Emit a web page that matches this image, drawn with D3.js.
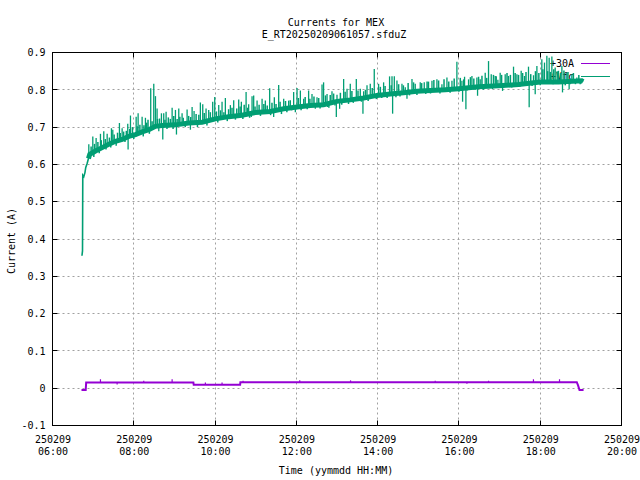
<!DOCTYPE html>
<html><head><meta charset="utf-8">
<script src="https://cdn.jsdelivr.net/npm/d3@7"></script>
<style>
body{margin:0;background:#fff}
svg text{font-family:"DejaVu Sans Mono","Liberation Mono",monospace;font-size:10px;fill:#000}
</style>
</head><body>
<svg id="c" width="640" height="480"></svg>
<script>
// ---------- data ----------
const titleLines = ["Currents for MEX", "E_RT20250209061057.sfduZ"];
const xLabel = "Time (yymmdd HH:MM)";
const yLabel = "Current (A)";
const seriesNames = ["+30A", "+Vfc"];
const seriesColors = ["#9400d3", "#009e73"];
const yTicks = [-0.1, 0, 0.1, 0.2, 0.3, 0.4, 0.5, 0.6, 0.7, 0.8, 0.9];
const xTickHours = [6, 8, 10, 12, 14, 16, 18, 20];
const dayLabel = "250209";

// +30A series: minutes after 06:00 and current (A)
const a30T = [42.8, 49.0, 49.7, 208.0, 208.5, 277.0, 277.4, 774.0, 776.0, 778.0, 784.0];
const a30V = [-0.005, -0.005, 0.015, 0.015, 0.009, 0.009, 0.016, 0.016, 0.007, -0.005, -0.005];
const a30SpikeT = [70.8, 95.4, 134.7, 176.6, 225.7, 250.3, 281.3, 365, 440, 565, 611.8, 643.7, 710, 748.5];
const a30SpikeV = [0.024, 0.010, 0.020, 0.024, 0.015, 0.015, 0.020, 0.021, 0.021, 0.020, 0.012, 0.020, 0.024, 0.024];

// +Vfc series: baseline band (minutes after 06:00, A)
const vfcBaseT = [43.5, 44.3, 44.7, 46.2, 47.9, 49.1, 51.2, 53.1, 55, 63.4, 73.3, 83.1, 92.9, 102.8, 112.6, 122.4, 132.3, 142.1, 152.0, 161.8, 181.5, 201.1, 220.8, 240.5, 260.1, 279.8, 299.5, 321.6, 341.3, 361.0, 380.6, 400.2, 420.0, 439.6, 459.3, 479.0, 498.7, 518.3, 538.0, 557.7, 579.8, 599.4, 628.9, 658.4, 688.0, 720.0, 747.0, 781.5, 783.4];
const vfcBaseV = [0.355, 0.368, 0.571, 0.567, 0.578, 0.592, 0.603, 0.616, 0.627, 0.636, 0.645, 0.654, 0.662, 0.667, 0.675, 0.680, 0.687, 0.693, 0.702, 0.704, 0.706, 0.711, 0.713, 0.722, 0.728, 0.732, 0.739, 0.742, 0.749, 0.754, 0.758, 0.760, 0.769, 0.773, 0.778, 0.785, 0.789, 0.792, 0.796, 0.798, 0.800, 0.803, 0.808, 0.811, 0.814, 0.821, 0.821, 0.824, 0.822];
// +Vfc large spikes (minutes after 06:00, peak A)
const vfcSpikeT = [53.6, 59.5, 64.4, 70.8, 75.7, 80.7, 87.0, 89.0, 98.8, 102.8, 111.1, 115.1, 123.5, 126.4, 132.3, 137.2, 145.0, 149.5, 152.0, 154.4, 160.8, 164.2, 167.7, 176.6, 181.5, 186.4, 191.3, 198.7, 206.1, 209.0, 218.3, 221.8, 226.7, 230.6, 236.5, 239.5, 245.4, 250.3, 255.2, 262.6, 267.5, 274.9, 278.8, 285.8, 289.6, 294.6,
  111.6, 156.9, 162.8, 183.0, 203.6,
  297.0, 302.0, 309.4, 314.2, 320.6, 327.5, 333.9, 341.3, 348.6, 356.0, 361.0, 365.9, 370.8, 378.1, 383.1, 390.5, 397.9, 400.2, 405.3, 412.6, 420.0, 429.8, 434.8, 439.6, 448.5, 454.4, 459.3, 464.3, 469.1, 475.0, 481.4, 488.8, 497.6, 501.2, 504.6, 508.5, 515.9, 520.8, 530.7, 535.5, 542.9, 548.8, 555.2,
  293.5, 326.5, 358.5, 388.0, 406.2, 419.0, 423.9, 458.3, 502.1, 523.3,
  560.2, 567.5, 574.9, 582.3, 589.7, 597.0, 604.4, 608.3, 614.2, 619.2, 626.5, 631.4, 638.8, 643.7, 647.7, 653.6, 657.5, 660.9, 668.3, 673.2, 680.6, 685.6, 691.9, 696.8, 702.7, 710.1, 715.1, 722.4, 726.3, 729.8, 733.2, 737.2, 742.1, 747.0, 752.0, 759.3, 766.7, 774.1, 781.5,
  605.4, 610.3, 627.5, 649.6, 664.4, 703.7, 712.6, 752.9, 762.7];
const vfcSpikeV = [0.654, 0.675, 0.671, 0.682, 0.689, 0.682, 0.697, 0.693, 0.711, 0.697, 0.709, 0.731, 0.728, 0.737, 0.728, 0.725, 0.804, 0.816, 0.783, 0.750, 0.737, 0.737, 0.741, 0.752, 0.746, 0.750, 0.737, 0.747, 0.754, 0.743, 0.766, 0.761, 0.750, 0.746, 0.768, 0.781, 0.759, 0.768, 0.778, 0.759, 0.772, 0.774, 0.768, 0.794, 0.761, 0.783,
  0.640, 0.689, 0.667, 0.680, 0.693,
  0.785, 0.771, 0.776, 0.771, 0.804, 0.780, 0.813, 0.776, 0.771, 0.794, 0.805, 0.798, 0.776, 0.798, 0.789, 0.780, 0.814, 0.820, 0.789, 0.796, 0.787, 0.829, 0.803, 0.816, 0.829, 0.803, 0.796, 0.812, 0.816, 0.856, 0.816, 0.820, 0.836, 0.836, 0.836, 0.825, 0.816, 0.807, 0.829, 0.816, 0.820, 0.820, 0.822,
  0.727, 0.727, 0.740, 0.749, 0.754, 0.727, 0.749, 0.736, 0.736, 0.776,
  0.824, 0.828, 0.815, 0.833, 0.824, 0.875, 0.824, 0.835, 0.828, 0.837, 0.833, 0.828, 0.846, 0.877, 0.842, 0.837, 0.827, 0.846, 0.842, 0.837, 0.862, 0.842, 0.851, 0.837, 0.862, 0.839, 0.864, 0.882, 0.873, 0.891, 0.886, 0.889, 0.860, 0.851, 0.864, 0.846, 0.842, 0.833, 0.828,
  0.768, 0.748, 0.784, 0.802, 0.797, 0.753, 0.788, 0.793, 0.802];
// +Vfc small excursions around the band (minutes after 06:00, A)
const vfcSmallT = [57, 61, 62, 67, 69, 72, 78, 79, 84, 86, 91, 94, 96, 100, 105, 107, 109, 114, 118, 120, 125, 129, 134, 135, 139, 141, 143, 147, 155, 158, 166, 169, 171, 174, 178, 179, 184, 188, 193, 196, 201, 204, 212, 214, 216, 224, 228, 233, 242, 244, 248, 253, 258, 260, 265, 270, 272, 277, 281, 283, 288, 291, 299, 305, 307, 312, 317, 322, 324, 330, 336, 338, 344, 346, 351, 353, 363, 367, 373, 376, 380, 386, 393, 395, 403, 408, 410, 415, 417, 425, 427, 432, 437, 442, 444, 451, 456, 462, 466, 472, 478, 484, 486, 491, 494, 500, 507, 511, 513, 518, 525, 527, 533, 538, 545, 551, 553, 558, 563, 570, 572, 578, 585, 587, 593, 600, 602, 607, 612, 617, 622, 624, 629, 634, 636, 641, 645, 651, 655, 663, 666, 671, 676, 678, 683, 688, 690, 694, 699, 706, 708, 713, 718, 720, 724, 731, 735, 739, 740, 745, 750, 755, 757, 761, 764, 769, 772, 777, 779];
const vfcSmallV = [0.648, 0.620, 0.655, 0.660, 0.630, 0.665, 0.668, 0.640, 0.672, 0.645, 0.680, 0.650, 0.685, 0.684, 0.688, 0.660, 0.690, 0.695, 0.700, 0.668, 0.702, 0.706, 0.675, 0.705, 0.712, 0.720, 0.682, 0.716, 0.722, 0.723, 0.720, 0.695, 0.726, 0.722, 0.695, 0.730, 0.722, 0.728, 0.725, 0.700, 0.730, 0.727, 0.735, 0.700, 0.733, 0.738, 0.704, 0.740, 0.742, 0.712, 0.745, 0.740, 0.716, 0.748, 0.752, 0.720, 0.750, 0.755, 0.722, 0.760, 0.752, 0.725, 0.755, 0.760, 0.730, 0.762, 0.758, 0.732, 0.765, 0.762, 0.768, 0.735, 0.770, 0.740, 0.772, 0.745, 0.778, 0.745, 0.781, 0.748, 0.776, 0.782, 0.778, 0.750, 0.785, 0.752, 0.786, 0.790, 0.758, 0.792, 0.760, 0.795, 0.762, 0.797, 0.765, 0.798, 0.768, 0.800, 0.770, 0.805, 0.775, 0.808, 0.778, 0.810, 0.778, 0.812, 0.780, 0.815, 0.782, 0.812, 0.818, 0.785, 0.820, 0.786, 0.818, 0.789, 0.822, 0.790, 0.826, 0.825, 0.790, 0.828, 0.822, 0.792, 0.830, 0.795, 0.832, 0.828, 0.798, 0.834, 0.830, 0.800, 0.835, 0.838, 0.800, 0.832, 0.805, 0.840, 0.836, 0.840, 0.806, 0.845, 0.840, 0.806, 0.845, 0.840, 0.808, 0.845, 0.848, 0.842, 0.810, 0.850, 0.845, 0.812, 0.855, 0.850, 0.848, 0.815, 0.855, 0.850, 0.845, 0.852, 0.812, 0.848, 0.815, 0.845, 0.815, 0.840, 0.815];

// ---------- drawing ----------
const svg = d3.select("#c");
const L = 52.5, R = 621.5, T = 52.5, B = 425.5;
const t0 = new Date(2025, 1, 9, 6, 0);
const toDate = m => new Date(t0.getTime() + m * 60000);
const x = d3.scaleTime().domain([t0, new Date(2025, 1, 9, 20, 0)]).range([L, R]);
const y = d3.scaleLinear().domain([-0.1, 0.9]).range([B, T]);
const snap = v => Math.round(v - 0.5) + 0.5;

// grid
const grid = svg.append("g").attr("stroke", "#a0a0a0").attr("stroke-width", 1).attr("stroke-dasharray", "2,3");
yTicks.forEach(v => grid.append("line").attr("x1", L).attr("x2", R).attr("y1", snap(y(v))).attr("y2", snap(y(v))));
xTickHours.forEach(h => {
  const xx = snap(x(new Date(2025, 1, 9, h, 0)));
  grid.append("line").attr("x1", xx).attr("x2", xx).attr("y1", T).attr("y2", B);
});

// axes (labels through d3 axes)
const fmtY = d => String(+d.toFixed(1));
const gy = svg.append("g").attr("transform", `translate(${L},0)`)
  .call(d3.axisLeft(y).tickValues(yTicks).tickSize(0).tickPadding(7).tickFormat(fmtY));
gy.select(".domain").remove();
gy.attr("font-family", null).attr("font-size", null);

const xDates = xTickHours.map(h => new Date(2025, 1, 9, h, 0));
const gx = svg.append("g").attr("transform", `translate(0,${B})`)
  .call(d3.axisBottom(x).tickValues(xDates).tickSize(0).tickPadding(0).tickFormat(() => ""));
gx.select(".domain").remove();
gx.attr("font-family", null).attr("font-size", null);
gx.selectAll(".tick text").each(function(d) {
  const t = d3.select(this).attr("y", null).attr("dy", null);
  t.append("tspan").attr("x", 0).attr("y", 17.5).text(dayLabel);
  t.append("tspan").attr("x", 0).attr("y", 29.5).text(d3.timeFormat("%H:%M")(d));
});

// tick marks (inward, mirrored)
const ticks = svg.append("g").attr("stroke", "#000").attr("stroke-width", 1);
const tl = 5;
yTicks.forEach(v => {
  const yy = snap(y(v));
  ticks.append("line").attr("x1", L).attr("x2", L + tl).attr("y1", yy).attr("y2", yy);
  ticks.append("line").attr("x1", R).attr("x2", R - tl).attr("y1", yy).attr("y2", yy);
});
xDates.forEach(d => {
  const xx = snap(x(d));
  ticks.append("line").attr("x1", xx).attr("x2", xx).attr("y1", B).attr("y2", B - tl);
  ticks.append("line").attr("x1", xx).attr("x2", xx).attr("y1", T).attr("y2", T + tl);
});

// titles
svg.append("text").attr("x", 336).attr("y", 26).attr("text-anchor", "middle").text(titleLines[0]);
svg.append("text").attr("x", 334).attr("y", 38).attr("text-anchor", "middle").text(titleLines[1]);
svg.append("text").attr("x", 336).attr("y", 474).attr("text-anchor", "middle").text(xLabel);
svg.append("text").attr("transform", "translate(15,241) rotate(-90)").attr("text-anchor", "middle").text(yLabel);

// legend
seriesNames.forEach((n, i) => {
  const ly = 63.5 + i * 13;
  svg.append("text").attr("x", 574).attr("y", ly + 3.5).attr("text-anchor", "end").text(n);
  svg.append("line").attr("x1", 581).attr("x2", 610).attr("y1", ly).attr("y2", ly)
    .attr("stroke", seriesColors[i]).attr("stroke-width", 1);
});

const plot = svg.append("g");
const line = d3.line().x(d => x(d[0])).y(d => y(d[1]));
const interp = (ts, vs, t) => {
  const i = d3.bisectLeft(ts, t);
  if (i <= 0) return vs[0];
  if (i >= ts.length) return vs[vs.length - 1];
  const f = (t - ts[i - 1]) / (ts[i] - ts[i - 1]);
  return vs[i - 1] + f * (vs[i] - vs[i - 1]);
};
const spikes = (ts, vs, baseT, baseV, color, w) => {
  ts.forEach((t, i) => {
    const xx = x(toDate(t));
    plot.append("line").attr("x1", xx).attr("x2", xx)
      .attr("y1", y(interp(baseT, baseV, t))).attr("y2", y(vs[i]))
      .attr("stroke", color).attr("stroke-width", w);
  });
};

// +30A
const a30 = a30T.map((t, i) => [toDate(t), a30V[i]]);
plot.append("path").attr("d", line(a30)).attr("fill", "none")
  .attr("stroke", seriesColors[0]).attr("stroke-width", 2);
spikes(a30SpikeT, a30SpikeV, a30T, a30V, seriesColors[0], 1.2);

// +Vfc
const vfc = vfcBaseT.map((t, i) => [toDate(t), vfcBaseV[i]]);
plot.append("path").attr("d", line(vfc)).attr("fill", "none")
  .attr("stroke", seriesColors[1]).attr("stroke-width", 1.6);
plot.append("path").attr("d", line(vfc.filter(d => d[0] >= toDate(52)))).attr("fill", "none")
  .attr("stroke", seriesColors[1]).attr("stroke-width", 5);
spikes(vfcSmallT, vfcSmallV, vfcBaseT, vfcBaseV, seriesColors[1], 1.5);
spikes(vfcSpikeT, vfcSpikeV, vfcBaseT, vfcBaseV, seriesColors[1], 1.3);

// border
svg.append("rect").attr("x", L).attr("y", T).attr("width", R - L).attr("height", B - T)
  .attr("fill", "none").attr("stroke", "#000").attr("stroke-width", 1);
</script>
</body></html>
